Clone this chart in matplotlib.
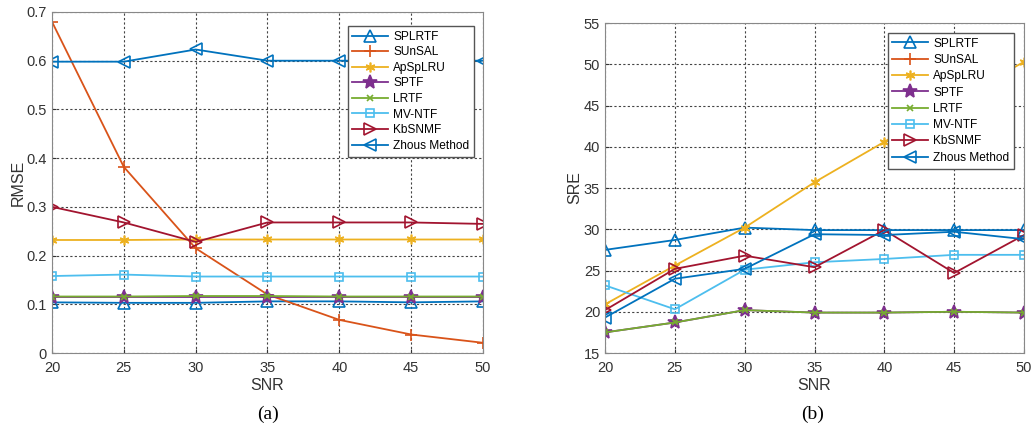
import numpy as np
import matplotlib.pyplot as plt

# data
snr = [20, 25, 30, 35, 40, 45, 50]
methods = ['SPLRTF', 'SUnSAL', 'ApSpLRU', 'SPTF', 'LRTF', 'MV-NTF', 'KbSNMF', 'Zhous Method']

rmse_splrtf = [0.104, 0.103, 0.103, 0.106, 0.106, 0.104, 0.106]
rmse_sunsal = [0.680, 0.382, 0.215, 0.120, 0.068, 0.038, 0.021]
rmse_apsplru = [0.232, 0.232, 0.233, 0.233, 0.233, 0.233, 0.233]
rmse_sptf = [0.116, 0.116, 0.116, 0.116, 0.116, 0.116, 0.116]
rmse_lrtf = [0.116, 0.116, 0.117, 0.117, 0.116, 0.116, 0.116]
rmse_mvntf = [0.158, 0.161, 0.157, 0.157, 0.157, 0.157, 0.157]
rmse_kbsnmf = [0.300, 0.268, 0.228, 0.268, 0.268, 0.268, 0.265]
rmse_zhou = [0.598, 0.598, 0.623, 0.600, 0.600, 0.600, 0.600]

sre_splrtf = [27.5, 28.7, 30.2, 29.9, 29.9, 29.9, 29.9]
sre_sunsal = []  # off the plotted range
sre_apsplru = [20.9, 25.6, 30.2, 35.7, 40.6, 45.5, 50.3]
sre_sptf = [17.5, 18.7, 20.2, 19.9, 19.9, 20.0, 19.9]
sre_lrtf = [17.5, 18.7, 20.2, 19.9, 19.9, 20.0, 19.9]
sre_mvntf = [23.2, 20.3, 25.1, 26.0, 26.4, 26.9, 26.9]
sre_kbsnmf = [20.2, 25.2, 26.8, 25.4, 29.9, 24.7, 29.3]
sre_zhou = [19.3, 24.0, 25.2, 29.4, 29.3, 29.7, 28.8]

colors = ['#0072BD', '#D95319', '#EDB120', '#7E2F8E', '#77AC30', '#4DBEEE', '#A2142F', '#0072BD']
markers = ['^', '+', (6, 2, 0), '*', 'x', 's', '>', '<']
filled = [False, True, True, True, True, False, False, False]
msizes = [8, 8, 7, 10, 5, 6, 8, 8]

plt.rcParams['font.family'] = ['Liberation Sans', 'DejaVu Sans']

fig = plt.figure(figsize=(10.33, 4.34), dpi=100)
ax1 = fig.add_axes([0.0503, 0.1866, 0.4173, 0.7858])
ax2 = fig.add_axes([0.5857, 0.1866, 0.4056, 0.7604])

rmse = [rmse_splrtf, rmse_sunsal, rmse_apsplru, rmse_sptf, rmse_lrtf, rmse_mvntf, rmse_kbsnmf, rmse_zhou]
sre = [sre_splrtf, sre_sunsal, sre_apsplru, sre_sptf, sre_lrtf, sre_mvntf, sre_kbsnmf, sre_zhou]


def draw(ax, series):
    for i, ys in enumerate(series):
        xs = snr[:len(ys)]
        ax.plot(xs, ys, color=colors[i], marker=markers[i], ms=msizes[i], lw=1.3,
                mfc=colors[i] if filled[i] else 'none', mec=colors[i], mew=1.2,
                label=methods[i])
    ax.set_xlim(20, 50)
    ax.set_xticks(snr)
    ax.grid(True, ls=(0, (2, 2)), color='#444444', lw=0.8)
    ax.tick_params(direction='in', labelsize=10.5, colors='#333333', length=3)
    ax.tick_params(axis='x', pad=6)
    for s in ax.spines.values():
        s.set_color('#888888')
    ax.set_xlabel('SNR', fontsize=11.5, color='#333333', labelpad=2)


draw(ax1, rmse)
ax1.set_ylim(0, 0.7)
ax1.set_yticks(np.arange(0, 0.71, 0.1))
ax1.set_yticklabels(['0', '0.1', '0.2', '0.3', '0.4', '0.5', '0.6', '0.7'])
ax1.set_ylabel('RMSE', fontsize=11.5, color='#333333', labelpad=1)
ax1.legend(loc='upper right', bbox_to_anchor=(0.979, 0.959), fontsize=8.6, frameon=True,
           fancybox=False, edgecolor='#555555', framealpha=1, handlelength=3.0,
           borderpad=0.4, labelspacing=0.3, handletextpad=0.4, borderaxespad=0)

draw(ax2, sre)
ax2.set_ylim(15, 55)
ax2.set_yticks(range(15, 56, 5))
ax2.set_ylabel('SRE', fontsize=11.5, color='#333333', labelpad=1)
ax2.legend(loc='upper right', bbox_to_anchor=(0.976, 0.97), fontsize=8.6, frameon=True,
           fancybox=False, edgecolor='#555555', framealpha=1, handlelength=3.0,
           borderpad=0.4, labelspacing=0.36, handletextpad=0.4, borderaxespad=0)

fig.text(0.259, 0.035, '(a)', fontsize=14, family='Liberation Serif', ha='center')
fig.text(0.787, 0.035, '(b)', fontsize=14, family='Liberation Serif', ha='center')

fig.savefig('out.png', dpi=100)
